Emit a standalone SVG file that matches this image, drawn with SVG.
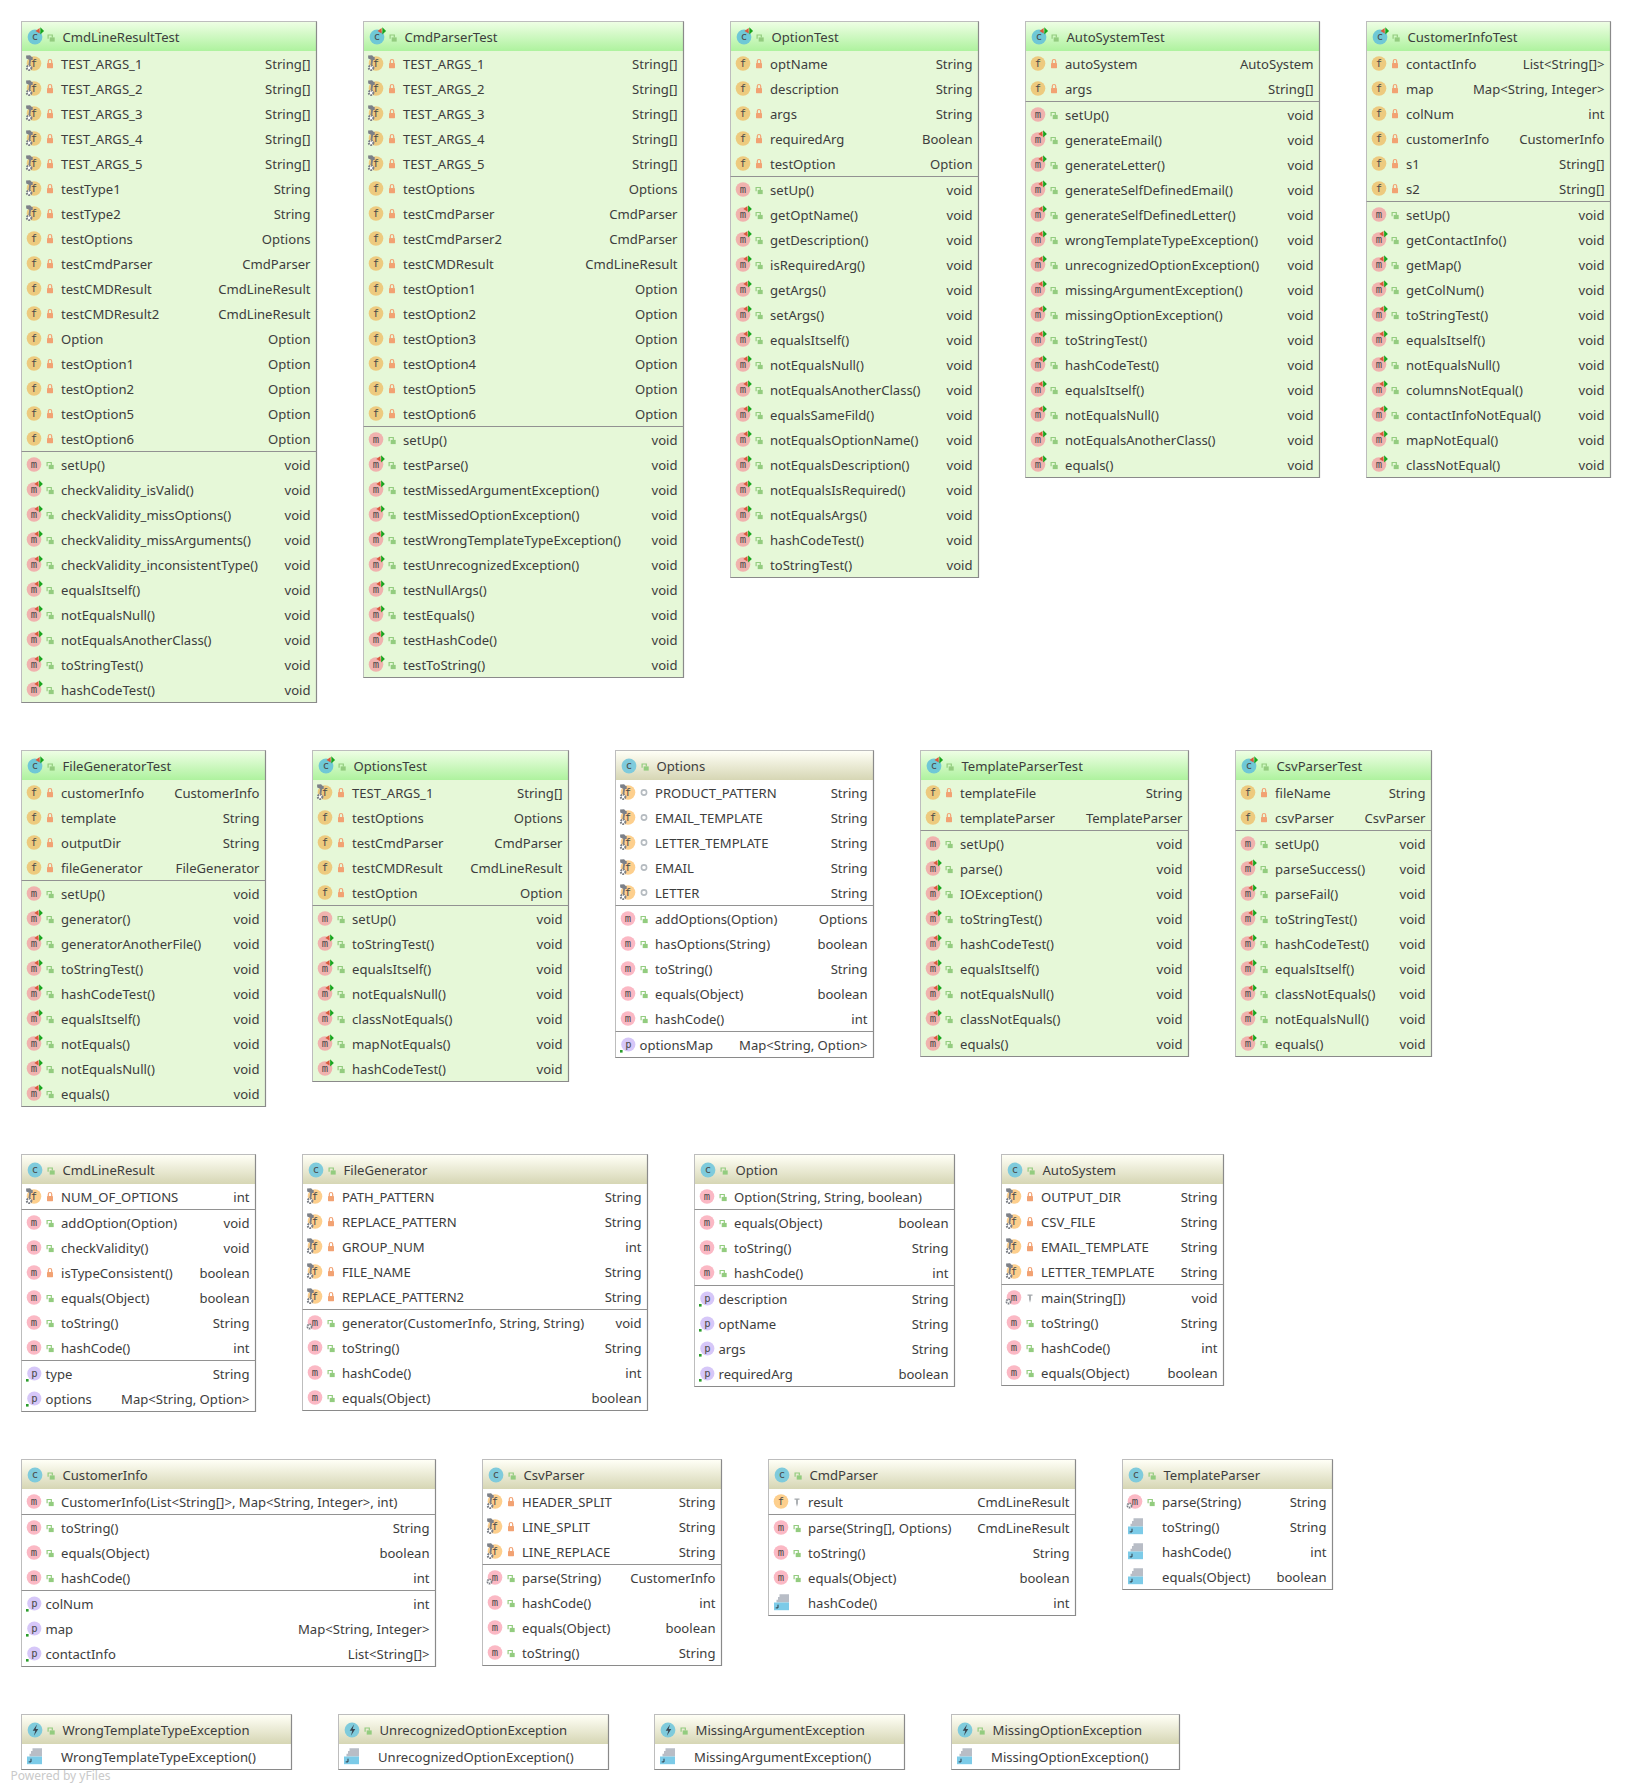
<svg xmlns="http://www.w3.org/2000/svg" width="1631" height="1791" viewBox="0 0 1631 1791">
<style>
text{font-family:"Noto Sans","Open Sans",sans-serif;font-size:13.1px;fill:#3d3d3d}
.t{text-anchor:end}
.node{--f:#fdcf8d;--m:#fbb8c4;--c:#7fcbdc;--p:#d6c7f8;--hi:url(#hc)}
.test{--f:#edca7e;--m:#f0b2ae;--c:#6fc8d6;--p:#d6c7f8;--hi:url(#ht)}
.b{fill:#fff;stroke:#bdbdbd}
.test .b{fill:#e6f8d8}
.h{fill:var(--hi)}
.e{fill:none;stroke:#8a8a8a;stroke-width:1.2}
.s{fill:none;stroke:#929292}
.g{font-family:"DejaVu Sans Mono",monospace;font-size:10.5px;text-anchor:middle;fill:#4a4a4a}
.cf{fill:var(--f)}.cm{fill:var(--m)}.cc{fill:var(--c)}.cp{fill:var(--p)}
.pl{fill:#f2a273}.pls{fill:none;stroke:#f2a273;stroke-width:1.2}
.gl{fill:#93cc7f}.gls{fill:none;stroke:#93cc7f;stroke-width:1.2}
.tool{fill:#7c8088}
.pw{font-size:12px;fill:#c9c9c9}
</style>
<defs>
<linearGradient id="ht" x1="0" y1="0" x2="0" y2="1"><stop offset="0" stop-color="#eefee4"/><stop offset="1" stop-color="#aef29e"/></linearGradient>
<linearGradient id="hc" x1="0" y1="0" x2="0" y2="1"><stop offset="0" stop-color="#fffff6"/><stop offset="1" stop-color="#d6d6b4"/></linearGradient>
<g id="pv"><path class="pls" d="M26.8-5.5v-1.8a1.7 1.7 0 0 1 3.4 0v1.8"/><rect class="pl" x="25.5" y="-5.5" width="6" height="5.2" rx=".6"/></g>
<g id="pu"><path class="gls" d="M25.6-3.2v-3.8h4.2v2.5"/><rect class="gl" x="27.2" y="-4.6" width="5" height="4.2"/></g>
<g id="pk"><circle cx="28.5" cy="-5" r="2.6" fill="none" stroke="#b5bbc0" stroke-width="1.6"/></g>
<g id="pn"><path d="M26-8h5v1.3h-1.6v3.7l-.9 3.2-.9-3.2v-3.7h-1.6z" fill="#a4a8ac"/></g>
<g id="tool"><path class="tool" d="M4.6-13l4-.2 1.6 1.8 1-.2v3l-1.6.2-.8 4.8h-1.8l.7-5.2-3-1.3z"/><circle cx="7.6" cy="-.7" r="2.3" fill="#fff" stroke="#7c8088" stroke-width="2" stroke-dasharray="1.6 .8"/></g>
<g id="tri"><path d="M17-13.5v5.6l-4.2-2.7z" fill="#d9593c"/><path d="M17.6-14.2v7.2l3.8-3.6z" fill="#19a51e"/></g>
<g id="fb"><circle class="cf" cx="12.5" cy="-5" r="7.3"/><text class="g" x="12.5" y="-1.4">f</text></g>
<g id="mb"><circle class="cm" cx="12.5" cy="-5" r="7.3"/><text class="g" x="12.5" y="-2">m</text></g>
<g id="S"><use href="#fb"/><use href="#tool"/><use href="#pv"/></g>
<g id="Sp"><use href="#fb"/><use href="#tool"/><use href="#pk"/></g>
<g id="F"><use href="#fb"/><use href="#pv"/></g>
<g id="Fk"><use href="#fb"/><use href="#pn"/></g>
<g id="M"><use href="#mb"/><use href="#pu"/></g>
<g id="Mr"><use href="#mb"/><use href="#pv"/></g>
<g id="T"><use href="#mb"/><use href="#tri"/><use href="#pu"/></g>
<g id="G"><use href="#mb"/><circle cx="7" cy="-1" r="2.1" fill="#fff" stroke="#7c8088" stroke-width="1.8" stroke-dasharray="1.5 .7"/><use href="#pu"/></g>
<g id="Gk"><use href="#mb"/><circle cx="7" cy="-1" r="2.1" fill="#fff" stroke="#7c8088" stroke-width="1.8" stroke-dasharray="1.5 .7"/><use href="#pn"/></g>
<g id="J"><path d="M11-13.3h9.5V-5H8v-2.8h1.5v-2.7H11z" fill="#b8bdc6"/><rect x="5.5" y="-5" width="15" height="7.7" fill="#7ccbe8"/><path d="M9.5-2.8v3.2H7.2" fill="none" stroke="#2c3a44" stroke-width="1"/></g>
<g id="P"><circle class="cp" cx="12.8" cy="-5" r="7.1"/><text class="g" x="12.8" y="-2">p</text><rect x="4.5" y=".5" width="2.6" height="2.6" fill="#2c9d2c"/></g>
<g id="cl"><circle class="cc" cx="13.5" cy="15.5" r="7.4"/><text class="g" x="13.5" y="18.8">c</text><use href="#pu" x="1" y="20.5"/></g>
<g id="ct"><use href="#cl"/><use href="#tri" x="1.2" y="20"/></g>
<g id="ce"><circle class="cc" cx="13.5" cy="15.5" r="7.4"/><path d="M15.5 10l-4.3 6.2h2.6l-1.4 5 4.4-6.6h-2.6z" fill="#3a4652"/><use href="#pu" x="1" y="20.5"/></g>
</defs>
<g id="connectors"></g>

<g id="CmdLineResultTest" class="node test" transform="translate(21.5,21.5)">
<rect class="b" width="295" height="681"/><rect class="h" x=".5" y=".5" width="294" height="29"/><path class="e" d="M295 0V681H0"/><path class="s" d="M0 430H295"/><use href="#ct"/><text x="41" y="20.5">CmdLineResultTest</text>
<use href="#S" y="47"/><text x="39.5" y="47">TEST_ARGS_1</text><text class="t" x="289" y="47">String[]</text>
<use href="#S" y="72"/><text x="39.5" y="72">TEST_ARGS_2</text><text class="t" x="289" y="72">String[]</text>
<use href="#S" y="97"/><text x="39.5" y="97">TEST_ARGS_3</text><text class="t" x="289" y="97">String[]</text>
<use href="#S" y="122"/><text x="39.5" y="122">TEST_ARGS_4</text><text class="t" x="289" y="122">String[]</text>
<use href="#S" y="147"/><text x="39.5" y="147">TEST_ARGS_5</text><text class="t" x="289" y="147">String[]</text>
<use href="#S" y="172"/><text x="39.5" y="172">testType1</text><text class="t" x="289" y="172">String</text>
<use href="#S" y="197"/><text x="39.5" y="197">testType2</text><text class="t" x="289" y="197">String</text>
<use href="#F" y="222"/><text x="39.5" y="222">testOptions</text><text class="t" x="289" y="222">Options</text>
<use href="#F" y="247"/><text x="39.5" y="247">testCmdParser</text><text class="t" x="289" y="247">CmdParser</text>
<use href="#F" y="272"/><text x="39.5" y="272">testCMDResult</text><text class="t" x="289" y="272">CmdLineResult</text>
<use href="#F" y="297"/><text x="39.5" y="297">testCMDResult2</text><text class="t" x="289" y="297">CmdLineResult</text>
<use href="#F" y="322"/><text x="39.5" y="322">Option</text><text class="t" x="289" y="322">Option</text>
<use href="#F" y="347"/><text x="39.5" y="347">testOption1</text><text class="t" x="289" y="347">Option</text>
<use href="#F" y="372"/><text x="39.5" y="372">testOption2</text><text class="t" x="289" y="372">Option</text>
<use href="#F" y="397"/><text x="39.5" y="397">testOption5</text><text class="t" x="289" y="397">Option</text>
<use href="#F" y="422"/><text x="39.5" y="422">testOption6</text><text class="t" x="289" y="422">Option</text>
<use href="#M" y="448"/><text x="39.5" y="448">setUp()</text><text class="t" x="289" y="448">void</text>
<use href="#T" y="473"/><text x="39.5" y="473">checkValidity_isValid()</text><text class="t" x="289" y="473">void</text>
<use href="#T" y="498"/><text x="39.5" y="498">checkValidity_missOptions()</text><text class="t" x="289" y="498">void</text>
<use href="#T" y="523"/><text x="39.5" y="523">checkValidity_missArguments()</text><text class="t" x="289" y="523">void</text>
<use href="#T" y="548"/><text x="39.5" y="548">checkValidity_inconsistentType()</text><text class="t" x="289" y="548">void</text>
<use href="#T" y="573"/><text x="39.5" y="573">equalsItself()</text><text class="t" x="289" y="573">void</text>
<use href="#T" y="598"/><text x="39.5" y="598">notEqualsNull()</text><text class="t" x="289" y="598">void</text>
<use href="#T" y="623"/><text x="39.5" y="623">notEqualsAnotherClass()</text><text class="t" x="289" y="623">void</text>
<use href="#T" y="648"/><text x="39.5" y="648">toStringTest()</text><text class="t" x="289" y="648">void</text>
<use href="#T" y="673"/><text x="39.5" y="673">hashCodeTest()</text><text class="t" x="289" y="673">void</text>
</g>

<g id="CmdParserTest" class="node test" transform="translate(363.5,21.5)">
<rect class="b" width="320" height="656"/><rect class="h" x=".5" y=".5" width="319" height="29"/><path class="e" d="M320 0V656H0"/><path class="s" d="M0 405H320"/><use href="#ct"/><text x="41" y="20.5">CmdParserTest</text>
<use href="#S" y="47"/><text x="39.5" y="47">TEST_ARGS_1</text><text class="t" x="314" y="47">String[]</text>
<use href="#S" y="72"/><text x="39.5" y="72">TEST_ARGS_2</text><text class="t" x="314" y="72">String[]</text>
<use href="#S" y="97"/><text x="39.5" y="97">TEST_ARGS_3</text><text class="t" x="314" y="97">String[]</text>
<use href="#S" y="122"/><text x="39.5" y="122">TEST_ARGS_4</text><text class="t" x="314" y="122">String[]</text>
<use href="#S" y="147"/><text x="39.5" y="147">TEST_ARGS_5</text><text class="t" x="314" y="147">String[]</text>
<use href="#F" y="172"/><text x="39.5" y="172">testOptions</text><text class="t" x="314" y="172">Options</text>
<use href="#F" y="197"/><text x="39.5" y="197">testCmdParser</text><text class="t" x="314" y="197">CmdParser</text>
<use href="#F" y="222"/><text x="39.5" y="222">testCmdParser2</text><text class="t" x="314" y="222">CmdParser</text>
<use href="#F" y="247"/><text x="39.5" y="247">testCMDResult</text><text class="t" x="314" y="247">CmdLineResult</text>
<use href="#F" y="272"/><text x="39.5" y="272">testOption1</text><text class="t" x="314" y="272">Option</text>
<use href="#F" y="297"/><text x="39.5" y="297">testOption2</text><text class="t" x="314" y="297">Option</text>
<use href="#F" y="322"/><text x="39.5" y="322">testOption3</text><text class="t" x="314" y="322">Option</text>
<use href="#F" y="347"/><text x="39.5" y="347">testOption4</text><text class="t" x="314" y="347">Option</text>
<use href="#F" y="372"/><text x="39.5" y="372">testOption5</text><text class="t" x="314" y="372">Option</text>
<use href="#F" y="397"/><text x="39.5" y="397">testOption6</text><text class="t" x="314" y="397">Option</text>
<use href="#M" y="423"/><text x="39.5" y="423">setUp()</text><text class="t" x="314" y="423">void</text>
<use href="#T" y="448"/><text x="39.5" y="448">testParse()</text><text class="t" x="314" y="448">void</text>
<use href="#T" y="473"/><text x="39.5" y="473">testMissedArgumentException()</text><text class="t" x="314" y="473">void</text>
<use href="#T" y="498"/><text x="39.5" y="498">testMissedOptionException()</text><text class="t" x="314" y="498">void</text>
<use href="#T" y="523"/><text x="39.5" y="523">testWrongTemplateTypeException()</text><text class="t" x="314" y="523">void</text>
<use href="#T" y="548"/><text x="39.5" y="548">testUnrecognizedException()</text><text class="t" x="314" y="548">void</text>
<use href="#T" y="573"/><text x="39.5" y="573">testNullArgs()</text><text class="t" x="314" y="573">void</text>
<use href="#T" y="598"/><text x="39.5" y="598">testEquals()</text><text class="t" x="314" y="598">void</text>
<use href="#T" y="623"/><text x="39.5" y="623">testHashCode()</text><text class="t" x="314" y="623">void</text>
<use href="#T" y="648"/><text x="39.5" y="648">testToString()</text><text class="t" x="314" y="648">void</text>
</g>

<g id="OptionTest" class="node test" transform="translate(730.5,21.5)">
<rect class="b" width="248" height="556"/><rect class="h" x=".5" y=".5" width="247" height="29"/><path class="e" d="M248 0V556H0"/><path class="s" d="M0 155H248"/><use href="#ct"/><text x="41" y="20.5">OptionTest</text>
<use href="#F" y="47"/><text x="39.5" y="47">optName</text><text class="t" x="242" y="47">String</text>
<use href="#F" y="72"/><text x="39.5" y="72">description</text><text class="t" x="242" y="72">String</text>
<use href="#F" y="97"/><text x="39.5" y="97">args</text><text class="t" x="242" y="97">String</text>
<use href="#F" y="122"/><text x="39.5" y="122">requiredArg</text><text class="t" x="242" y="122">Boolean</text>
<use href="#F" y="147"/><text x="39.5" y="147">testOption</text><text class="t" x="242" y="147">Option</text>
<use href="#M" y="173"/><text x="39.5" y="173">setUp()</text><text class="t" x="242" y="173">void</text>
<use href="#T" y="198"/><text x="39.5" y="198">getOptName()</text><text class="t" x="242" y="198">void</text>
<use href="#T" y="223"/><text x="39.5" y="223">getDescription()</text><text class="t" x="242" y="223">void</text>
<use href="#T" y="248"/><text x="39.5" y="248">isRequiredArg()</text><text class="t" x="242" y="248">void</text>
<use href="#T" y="273"/><text x="39.5" y="273">getArgs()</text><text class="t" x="242" y="273">void</text>
<use href="#T" y="298"/><text x="39.5" y="298">setArgs()</text><text class="t" x="242" y="298">void</text>
<use href="#T" y="323"/><text x="39.5" y="323">equalsItself()</text><text class="t" x="242" y="323">void</text>
<use href="#T" y="348"/><text x="39.5" y="348">notEqualsNull()</text><text class="t" x="242" y="348">void</text>
<use href="#T" y="373"/><text x="39.5" y="373">notEqualsAnotherClass()</text><text class="t" x="242" y="373">void</text>
<use href="#T" y="398"/><text x="39.5" y="398">equalsSameFild()</text><text class="t" x="242" y="398">void</text>
<use href="#T" y="423"/><text x="39.5" y="423">notEqualsOptionName()</text><text class="t" x="242" y="423">void</text>
<use href="#T" y="448"/><text x="39.5" y="448">notEqualsDescription()</text><text class="t" x="242" y="448">void</text>
<use href="#T" y="473"/><text x="39.5" y="473">notEqualsIsRequired()</text><text class="t" x="242" y="473">void</text>
<use href="#T" y="498"/><text x="39.5" y="498">notEqualsArgs()</text><text class="t" x="242" y="498">void</text>
<use href="#T" y="523"/><text x="39.5" y="523">hashCodeTest()</text><text class="t" x="242" y="523">void</text>
<use href="#T" y="548"/><text x="39.5" y="548">toStringTest()</text><text class="t" x="242" y="548">void</text>
</g>

<g id="AutoSystemTest" class="node test" transform="translate(1025.5,21.5)">
<rect class="b" width="294" height="456"/><rect class="h" x=".5" y=".5" width="293" height="29"/><path class="e" d="M294 0V456H0"/><path class="s" d="M0 80H294"/><use href="#ct"/><text x="41" y="20.5">AutoSystemTest</text>
<use href="#F" y="47"/><text x="39.5" y="47">autoSystem</text><text class="t" x="288" y="47">AutoSystem</text>
<use href="#F" y="72"/><text x="39.5" y="72">args</text><text class="t" x="288" y="72">String[]</text>
<use href="#M" y="98"/><text x="39.5" y="98">setUp()</text><text class="t" x="288" y="98">void</text>
<use href="#T" y="123"/><text x="39.5" y="123">generateEmail()</text><text class="t" x="288" y="123">void</text>
<use href="#T" y="148"/><text x="39.5" y="148">generateLetter()</text><text class="t" x="288" y="148">void</text>
<use href="#T" y="173"/><text x="39.5" y="173">generateSelfDefinedEmail()</text><text class="t" x="288" y="173">void</text>
<use href="#T" y="198"/><text x="39.5" y="198">generateSelfDefinedLetter()</text><text class="t" x="288" y="198">void</text>
<use href="#T" y="223"/><text x="39.5" y="223">wrongTemplateTypeException()</text><text class="t" x="288" y="223">void</text>
<use href="#T" y="248"/><text x="39.5" y="248">unrecognizedOptionException()</text><text class="t" x="288" y="248">void</text>
<use href="#T" y="273"/><text x="39.5" y="273">missingArgumentException()</text><text class="t" x="288" y="273">void</text>
<use href="#T" y="298"/><text x="39.5" y="298">missingOptionException()</text><text class="t" x="288" y="298">void</text>
<use href="#T" y="323"/><text x="39.5" y="323">toStringTest()</text><text class="t" x="288" y="323">void</text>
<use href="#T" y="348"/><text x="39.5" y="348">hashCodeTest()</text><text class="t" x="288" y="348">void</text>
<use href="#T" y="373"/><text x="39.5" y="373">equalsItself()</text><text class="t" x="288" y="373">void</text>
<use href="#T" y="398"/><text x="39.5" y="398">notEqualsNull()</text><text class="t" x="288" y="398">void</text>
<use href="#T" y="423"/><text x="39.5" y="423">notEqualsAnotherClass()</text><text class="t" x="288" y="423">void</text>
<use href="#T" y="448"/><text x="39.5" y="448">equals()</text><text class="t" x="288" y="448">void</text>
</g>

<g id="CustomerInfoTest" class="node test" transform="translate(1366.5,21.5)">
<rect class="b" width="244" height="456"/><rect class="h" x=".5" y=".5" width="243" height="29"/><path class="e" d="M244 0V456H0"/><path class="s" d="M0 180H244"/><use href="#ct"/><text x="41" y="20.5">CustomerInfoTest</text>
<use href="#F" y="47"/><text x="39.5" y="47">contactInfo</text><text class="t" x="238" y="47">List&lt;String[]&gt;</text>
<use href="#F" y="72"/><text x="39.5" y="72">map</text><text class="t" x="238" y="72">Map&lt;String, Integer&gt;</text>
<use href="#F" y="97"/><text x="39.5" y="97">colNum</text><text class="t" x="238" y="97">int</text>
<use href="#F" y="122"/><text x="39.5" y="122">customerInfo</text><text class="t" x="238" y="122">CustomerInfo</text>
<use href="#F" y="147"/><text x="39.5" y="147">s1</text><text class="t" x="238" y="147">String[]</text>
<use href="#F" y="172"/><text x="39.5" y="172">s2</text><text class="t" x="238" y="172">String[]</text>
<use href="#M" y="198"/><text x="39.5" y="198">setUp()</text><text class="t" x="238" y="198">void</text>
<use href="#T" y="223"/><text x="39.5" y="223">getContactInfo()</text><text class="t" x="238" y="223">void</text>
<use href="#T" y="248"/><text x="39.5" y="248">getMap()</text><text class="t" x="238" y="248">void</text>
<use href="#T" y="273"/><text x="39.5" y="273">getColNum()</text><text class="t" x="238" y="273">void</text>
<use href="#T" y="298"/><text x="39.5" y="298">toStringTest()</text><text class="t" x="238" y="298">void</text>
<use href="#T" y="323"/><text x="39.5" y="323">equalsItself()</text><text class="t" x="238" y="323">void</text>
<use href="#T" y="348"/><text x="39.5" y="348">notEqualsNull()</text><text class="t" x="238" y="348">void</text>
<use href="#T" y="373"/><text x="39.5" y="373">columnsNotEqual()</text><text class="t" x="238" y="373">void</text>
<use href="#T" y="398"/><text x="39.5" y="398">contactInfoNotEqual()</text><text class="t" x="238" y="398">void</text>
<use href="#T" y="423"/><text x="39.5" y="423">mapNotEqual()</text><text class="t" x="238" y="423">void</text>
<use href="#T" y="448"/><text x="39.5" y="448">classNotEqual()</text><text class="t" x="238" y="448">void</text>
</g>

<g id="FileGeneratorTest" class="node test" transform="translate(21.5,750.5)">
<rect class="b" width="244" height="356"/><rect class="h" x=".5" y=".5" width="243" height="29"/><path class="e" d="M244 0V356H0"/><path class="s" d="M0 130H244"/><use href="#ct"/><text x="41" y="20.5">FileGeneratorTest</text>
<use href="#F" y="47"/><text x="39.5" y="47">customerInfo</text><text class="t" x="238" y="47">CustomerInfo</text>
<use href="#F" y="72"/><text x="39.5" y="72">template</text><text class="t" x="238" y="72">String</text>
<use href="#F" y="97"/><text x="39.5" y="97">outputDir</text><text class="t" x="238" y="97">String</text>
<use href="#F" y="122"/><text x="39.5" y="122">fileGenerator</text><text class="t" x="238" y="122">FileGenerator</text>
<use href="#M" y="148"/><text x="39.5" y="148">setUp()</text><text class="t" x="238" y="148">void</text>
<use href="#T" y="173"/><text x="39.5" y="173">generator()</text><text class="t" x="238" y="173">void</text>
<use href="#T" y="198"/><text x="39.5" y="198">generatorAnotherFile()</text><text class="t" x="238" y="198">void</text>
<use href="#T" y="223"/><text x="39.5" y="223">toStringTest()</text><text class="t" x="238" y="223">void</text>
<use href="#T" y="248"/><text x="39.5" y="248">hashCodeTest()</text><text class="t" x="238" y="248">void</text>
<use href="#T" y="273"/><text x="39.5" y="273">equalsItself()</text><text class="t" x="238" y="273">void</text>
<use href="#T" y="298"/><text x="39.5" y="298">notEquals()</text><text class="t" x="238" y="298">void</text>
<use href="#T" y="323"/><text x="39.5" y="323">notEqualsNull()</text><text class="t" x="238" y="323">void</text>
<use href="#T" y="348"/><text x="39.5" y="348">equals()</text><text class="t" x="238" y="348">void</text>
</g>

<g id="OptionsTest" class="node test" transform="translate(312.5,750.5)">
<rect class="b" width="256" height="331"/><rect class="h" x=".5" y=".5" width="255" height="29"/><path class="e" d="M256 0V331H0"/><path class="s" d="M0 155H256"/><use href="#ct"/><text x="41" y="20.5">OptionsTest</text>
<use href="#S" y="47"/><text x="39.5" y="47">TEST_ARGS_1</text><text class="t" x="250" y="47">String[]</text>
<use href="#F" y="72"/><text x="39.5" y="72">testOptions</text><text class="t" x="250" y="72">Options</text>
<use href="#F" y="97"/><text x="39.5" y="97">testCmdParser</text><text class="t" x="250" y="97">CmdParser</text>
<use href="#F" y="122"/><text x="39.5" y="122">testCMDResult</text><text class="t" x="250" y="122">CmdLineResult</text>
<use href="#F" y="147"/><text x="39.5" y="147">testOption</text><text class="t" x="250" y="147">Option</text>
<use href="#M" y="173"/><text x="39.5" y="173">setUp()</text><text class="t" x="250" y="173">void</text>
<use href="#T" y="198"/><text x="39.5" y="198">toStringTest()</text><text class="t" x="250" y="198">void</text>
<use href="#T" y="223"/><text x="39.5" y="223">equalsItself()</text><text class="t" x="250" y="223">void</text>
<use href="#T" y="248"/><text x="39.5" y="248">notEqualsNull()</text><text class="t" x="250" y="248">void</text>
<use href="#T" y="273"/><text x="39.5" y="273">classNotEquals()</text><text class="t" x="250" y="273">void</text>
<use href="#T" y="298"/><text x="39.5" y="298">mapNotEquals()</text><text class="t" x="250" y="298">void</text>
<use href="#T" y="323"/><text x="39.5" y="323">hashCodeTest()</text><text class="t" x="250" y="323">void</text>
</g>

<g id="Options" class="node" transform="translate(615.5,750.5)">
<rect class="b" width="258" height="307"/><rect class="h" x=".5" y=".5" width="257" height="29"/><path class="e" d="M258 0V307H0"/><path class="s" d="M0 155H258M0 281H258"/><use href="#cl"/><text x="41" y="20.5">Options</text>
<use href="#Sp" y="47"/><text x="39.5" y="47">PRODUCT_PATTERN</text><text class="t" x="252" y="47">String</text>
<use href="#Sp" y="72"/><text x="39.5" y="72">EMAIL_TEMPLATE</text><text class="t" x="252" y="72">String</text>
<use href="#Sp" y="97"/><text x="39.5" y="97">LETTER_TEMPLATE</text><text class="t" x="252" y="97">String</text>
<use href="#Sp" y="122"/><text x="39.5" y="122">EMAIL</text><text class="t" x="252" y="122">String</text>
<use href="#Sp" y="147"/><text x="39.5" y="147">LETTER</text><text class="t" x="252" y="147">String</text>
<use href="#M" y="173"/><text x="39.5" y="173">addOptions(Option)</text><text class="t" x="252" y="173">Options</text>
<use href="#M" y="198"/><text x="39.5" y="198">hasOptions(String)</text><text class="t" x="252" y="198">boolean</text>
<use href="#M" y="223"/><text x="39.5" y="223">toString()</text><text class="t" x="252" y="223">String</text>
<use href="#M" y="248"/><text x="39.5" y="248">equals(Object)</text><text class="t" x="252" y="248">boolean</text>
<use href="#M" y="273"/><text x="39.5" y="273">hashCode()</text><text class="t" x="252" y="273">int</text>
<use href="#P" y="299"/><text x="24" y="299">optionsMap</text><text class="t" x="252" y="299">Map&lt;String, Option&gt;</text>
</g>

<g id="TemplateParserTest" class="node test" transform="translate(920.5,750.5)">
<rect class="b" width="268" height="306"/><rect class="h" x=".5" y=".5" width="267" height="29"/><path class="e" d="M268 0V306H0"/><path class="s" d="M0 80H268"/><use href="#ct"/><text x="41" y="20.5">TemplateParserTest</text>
<use href="#F" y="47"/><text x="39.5" y="47">templateFile</text><text class="t" x="262" y="47">String</text>
<use href="#F" y="72"/><text x="39.5" y="72">templateParser</text><text class="t" x="262" y="72">TemplateParser</text>
<use href="#M" y="98"/><text x="39.5" y="98">setUp()</text><text class="t" x="262" y="98">void</text>
<use href="#T" y="123"/><text x="39.5" y="123">parse()</text><text class="t" x="262" y="123">void</text>
<use href="#T" y="148"/><text x="39.5" y="148">IOException()</text><text class="t" x="262" y="148">void</text>
<use href="#T" y="173"/><text x="39.5" y="173">toStringTest()</text><text class="t" x="262" y="173">void</text>
<use href="#T" y="198"/><text x="39.5" y="198">hashCodeTest()</text><text class="t" x="262" y="198">void</text>
<use href="#T" y="223"/><text x="39.5" y="223">equalsItself()</text><text class="t" x="262" y="223">void</text>
<use href="#T" y="248"/><text x="39.5" y="248">notEqualsNull()</text><text class="t" x="262" y="248">void</text>
<use href="#T" y="273"/><text x="39.5" y="273">classNotEquals()</text><text class="t" x="262" y="273">void</text>
<use href="#T" y="298"/><text x="39.5" y="298">equals()</text><text class="t" x="262" y="298">void</text>
</g>

<g id="CsvParserTest" class="node test" transform="translate(1235.5,750.5)">
<rect class="b" width="196" height="306"/><rect class="h" x=".5" y=".5" width="195" height="29"/><path class="e" d="M196 0V306H0"/><path class="s" d="M0 80H196"/><use href="#ct"/><text x="41" y="20.5">CsvParserTest</text>
<use href="#F" y="47"/><text x="39.5" y="47">fileName</text><text class="t" x="190" y="47">String</text>
<use href="#F" y="72"/><text x="39.5" y="72">csvParser</text><text class="t" x="190" y="72">CsvParser</text>
<use href="#M" y="98"/><text x="39.5" y="98">setUp()</text><text class="t" x="190" y="98">void</text>
<use href="#T" y="123"/><text x="39.5" y="123">parseSuccess()</text><text class="t" x="190" y="123">void</text>
<use href="#T" y="148"/><text x="39.5" y="148">parseFail()</text><text class="t" x="190" y="148">void</text>
<use href="#T" y="173"/><text x="39.5" y="173">toStringTest()</text><text class="t" x="190" y="173">void</text>
<use href="#T" y="198"/><text x="39.5" y="198">hashCodeTest()</text><text class="t" x="190" y="198">void</text>
<use href="#T" y="223"/><text x="39.5" y="223">equalsItself()</text><text class="t" x="190" y="223">void</text>
<use href="#T" y="248"/><text x="39.5" y="248">classNotEquals()</text><text class="t" x="190" y="248">void</text>
<use href="#T" y="273"/><text x="39.5" y="273">notEqualsNull()</text><text class="t" x="190" y="273">void</text>
<use href="#T" y="298"/><text x="39.5" y="298">equals()</text><text class="t" x="190" y="298">void</text>
</g>

<g id="CmdLineResult" class="node" transform="translate(21.5,1154.5)">
<rect class="b" width="234" height="257"/><rect class="h" x=".5" y=".5" width="233" height="29"/><path class="e" d="M234 0V257H0"/><path class="s" d="M0 55H234M0 206H234"/><use href="#cl"/><text x="41" y="20.5">CmdLineResult</text>
<use href="#S" y="47"/><text x="39.5" y="47">NUM_OF_OPTIONS</text><text class="t" x="228" y="47">int</text>
<use href="#M" y="73"/><text x="39.5" y="73">addOption(Option)</text><text class="t" x="228" y="73">void</text>
<use href="#M" y="98"/><text x="39.5" y="98">checkValidity()</text><text class="t" x="228" y="98">void</text>
<use href="#Mr" y="123"/><text x="39.5" y="123">isTypeConsistent()</text><text class="t" x="228" y="123">boolean</text>
<use href="#M" y="148"/><text x="39.5" y="148">equals(Object)</text><text class="t" x="228" y="148">boolean</text>
<use href="#M" y="173"/><text x="39.5" y="173">toString()</text><text class="t" x="228" y="173">String</text>
<use href="#M" y="198"/><text x="39.5" y="198">hashCode()</text><text class="t" x="228" y="198">int</text>
<use href="#P" y="224"/><text x="24" y="224">type</text><text class="t" x="228" y="224">String</text>
<use href="#P" y="249"/><text x="24" y="249">options</text><text class="t" x="228" y="249">Map&lt;String, Option&gt;</text>
</g>

<g id="FileGenerator" class="node" transform="translate(302.5,1154.5)">
<rect class="b" width="345" height="256"/><rect class="h" x=".5" y=".5" width="344" height="29"/><path class="e" d="M345 0V256H0"/><path class="s" d="M0 155H345"/><use href="#cl"/><text x="41" y="20.5">FileGenerator</text>
<use href="#S" y="47"/><text x="39.5" y="47">PATH_PATTERN</text><text class="t" x="339" y="47">String</text>
<use href="#S" y="72"/><text x="39.5" y="72">REPLACE_PATTERN</text><text class="t" x="339" y="72">String</text>
<use href="#S" y="97"/><text x="39.5" y="97">GROUP_NUM</text><text class="t" x="339" y="97">int</text>
<use href="#S" y="122"/><text x="39.5" y="122">FILE_NAME</text><text class="t" x="339" y="122">String</text>
<use href="#S" y="147"/><text x="39.5" y="147">REPLACE_PATTERN2</text><text class="t" x="339" y="147">String</text>
<use href="#G" y="173"/><text x="39.5" y="173">generator(CustomerInfo, String, String)</text><text class="t" x="339" y="173">void</text>
<use href="#M" y="198"/><text x="39.5" y="198">toString()</text><text class="t" x="339" y="198">String</text>
<use href="#M" y="223"/><text x="39.5" y="223">hashCode()</text><text class="t" x="339" y="223">int</text>
<use href="#M" y="248"/><text x="39.5" y="248">equals(Object)</text><text class="t" x="339" y="248">boolean</text>
</g>

<g id="Option" class="node" transform="translate(694.5,1154.5)">
<rect class="b" width="260" height="232"/><rect class="h" x=".5" y=".5" width="259" height="29"/><path class="e" d="M260 0V232H0"/><path class="s" d="M0 55H260M0 131H260"/><use href="#cl"/><text x="41" y="20.5">Option</text>
<use href="#M" y="47"/><text x="39.5" y="47">Option(String, String, boolean)</text>
<use href="#M" y="73"/><text x="39.5" y="73">equals(Object)</text><text class="t" x="254" y="73">boolean</text>
<use href="#M" y="98"/><text x="39.5" y="98">toString()</text><text class="t" x="254" y="98">String</text>
<use href="#M" y="123"/><text x="39.5" y="123">hashCode()</text><text class="t" x="254" y="123">int</text>
<use href="#P" y="149"/><text x="24" y="149">description</text><text class="t" x="254" y="149">String</text>
<use href="#P" y="174"/><text x="24" y="174">optName</text><text class="t" x="254" y="174">String</text>
<use href="#P" y="199"/><text x="24" y="199">args</text><text class="t" x="254" y="199">String</text>
<use href="#P" y="224"/><text x="24" y="224">requiredArg</text><text class="t" x="254" y="224">boolean</text>
</g>

<g id="AutoSystem" class="node" transform="translate(1001.5,1154.5)">
<rect class="b" width="222" height="231"/><rect class="h" x=".5" y=".5" width="221" height="29"/><path class="e" d="M222 0V231H0"/><path class="s" d="M0 130H222"/><use href="#cl"/><text x="41" y="20.5">AutoSystem</text>
<use href="#S" y="47"/><text x="39.5" y="47">OUTPUT_DIR</text><text class="t" x="216" y="47">String</text>
<use href="#S" y="72"/><text x="39.5" y="72">CSV_FILE</text><text class="t" x="216" y="72">String</text>
<use href="#S" y="97"/><text x="39.5" y="97">EMAIL_TEMPLATE</text><text class="t" x="216" y="97">String</text>
<use href="#S" y="122"/><text x="39.5" y="122">LETTER_TEMPLATE</text><text class="t" x="216" y="122">String</text>
<use href="#Gk" y="148"/><text x="39.5" y="148">main(String[])</text><text class="t" x="216" y="148">void</text>
<use href="#M" y="173"/><text x="39.5" y="173">toString()</text><text class="t" x="216" y="173">String</text>
<use href="#M" y="198"/><text x="39.5" y="198">hashCode()</text><text class="t" x="216" y="198">int</text>
<use href="#M" y="223"/><text x="39.5" y="223">equals(Object)</text><text class="t" x="216" y="223">boolean</text>
</g>

<g id="CustomerInfo" class="node" transform="translate(21.5,1459.5)">
<rect class="b" width="414" height="207"/><rect class="h" x=".5" y=".5" width="413" height="29"/><path class="e" d="M414 0V207H0"/><path class="s" d="M0 55H414M0 131H414"/><use href="#cl"/><text x="41" y="20.5">CustomerInfo</text>
<use href="#M" y="47"/><text x="39.5" y="47">CustomerInfo(List&lt;String[]&gt;, Map&lt;String, Integer&gt;, int)</text>
<use href="#M" y="73"/><text x="39.5" y="73">toString()</text><text class="t" x="408" y="73">String</text>
<use href="#M" y="98"/><text x="39.5" y="98">equals(Object)</text><text class="t" x="408" y="98">boolean</text>
<use href="#M" y="123"/><text x="39.5" y="123">hashCode()</text><text class="t" x="408" y="123">int</text>
<use href="#P" y="149"/><text x="24" y="149">colNum</text><text class="t" x="408" y="149">int</text>
<use href="#P" y="174"/><text x="24" y="174">map</text><text class="t" x="408" y="174">Map&lt;String, Integer&gt;</text>
<use href="#P" y="199"/><text x="24" y="199">contactInfo</text><text class="t" x="408" y="199">List&lt;String[]&gt;</text>
</g>

<g id="CsvParser" class="node" transform="translate(482.5,1459.5)">
<rect class="b" width="239" height="206"/><rect class="h" x=".5" y=".5" width="238" height="29"/><path class="e" d="M239 0V206H0"/><path class="s" d="M0 105H239"/><use href="#cl"/><text x="41" y="20.5">CsvParser</text>
<use href="#S" y="47"/><text x="39.5" y="47">HEADER_SPLIT</text><text class="t" x="233" y="47">String</text>
<use href="#S" y="72"/><text x="39.5" y="72">LINE_SPLIT</text><text class="t" x="233" y="72">String</text>
<use href="#S" y="97"/><text x="39.5" y="97">LINE_REPLACE</text><text class="t" x="233" y="97">String</text>
<use href="#G" y="123"/><text x="39.5" y="123">parse(String)</text><text class="t" x="233" y="123">CustomerInfo</text>
<use href="#M" y="148"/><text x="39.5" y="148">hashCode()</text><text class="t" x="233" y="148">int</text>
<use href="#M" y="173"/><text x="39.5" y="173">equals(Object)</text><text class="t" x="233" y="173">boolean</text>
<use href="#M" y="198"/><text x="39.5" y="198">toString()</text><text class="t" x="233" y="198">String</text>
</g>

<g id="CmdParser" class="node" transform="translate(768.5,1459.5)">
<rect class="b" width="307" height="156"/><rect class="h" x=".5" y=".5" width="306" height="29"/><path class="e" d="M307 0V156H0"/><path class="s" d="M0 55H307"/><use href="#cl"/><text x="41" y="20.5">CmdParser</text>
<use href="#Fk" y="47"/><text x="39.5" y="47">result</text><text class="t" x="301" y="47">CmdLineResult</text>
<use href="#M" y="73"/><text x="39.5" y="73">parse(String[], Options)</text><text class="t" x="301" y="73">CmdLineResult</text>
<use href="#M" y="98"/><text x="39.5" y="98">toString()</text><text class="t" x="301" y="98">String</text>
<use href="#M" y="123"/><text x="39.5" y="123">equals(Object)</text><text class="t" x="301" y="123">boolean</text>
<use href="#J" y="148"/><text x="39.5" y="148">hashCode()</text><text class="t" x="301" y="148">int</text>
</g>

<g id="TemplateParser" class="node" transform="translate(1122.5,1459.5)">
<rect class="b" width="210" height="130"/><rect class="h" x=".5" y=".5" width="209" height="29"/><path class="e" d="M210 0V130H0"/><use href="#cl"/><text x="41" y="20.5">TemplateParser</text>
<use href="#G" y="47"/><text x="39.5" y="47">parse(String)</text><text class="t" x="204" y="47">String</text>
<use href="#J" y="72"/><text x="39.5" y="72">toString()</text><text class="t" x="204" y="72">String</text>
<use href="#J" y="97"/><text x="39.5" y="97">hashCode()</text><text class="t" x="204" y="97">int</text>
<use href="#J" y="122"/><text x="39.5" y="122">equals(Object)</text><text class="t" x="204" y="122">boolean</text>
</g>

<g id="WrongTemplateTypeException" class="node" transform="translate(21.5,1714.5)">
<rect class="b" width="270" height="55"/><rect class="h" x=".5" y=".5" width="269" height="29"/><path class="e" d="M270 0V55H0"/><use href="#ce"/><text x="41" y="20.5">WrongTemplateTypeException</text>
<use href="#J" y="47"/><text x="39.5" y="47">WrongTemplateTypeException()</text>
</g>
<g id="UnrecognizedOptionException" class="node" transform="translate(338.5,1714.5)">
<rect class="b" width="270" height="55"/><rect class="h" x=".5" y=".5" width="269" height="29"/><path class="e" d="M270 0V55H0"/><use href="#ce"/><text x="41" y="20.5">UnrecognizedOptionException</text>
<use href="#J" y="47"/><text x="39.5" y="47">UnrecognizedOptionException()</text>
</g>
<g id="MissingArgumentException" class="node" transform="translate(654.5,1714.5)">
<rect class="b" width="250" height="55"/><rect class="h" x=".5" y=".5" width="249" height="29"/><path class="e" d="M250 0V55H0"/><use href="#ce"/><text x="41" y="20.5">MissingArgumentException</text>
<use href="#J" y="47"/><text x="39.5" y="47">MissingArgumentException()</text>
</g>
<g id="MissingOptionException" class="node" transform="translate(951.5,1714.5)">
<rect class="b" width="228" height="55"/><rect class="h" x=".5" y=".5" width="227" height="29"/><path class="e" d="M228 0V55H0"/><use href="#ce"/><text x="41" y="20.5">MissingOptionException</text>
<use href="#J" y="47"/><text x="39.5" y="47">MissingOptionException()</text>
</g>
<text class="pw" x="10.5" y="1780">Powered by yFiles</text>
</svg>
